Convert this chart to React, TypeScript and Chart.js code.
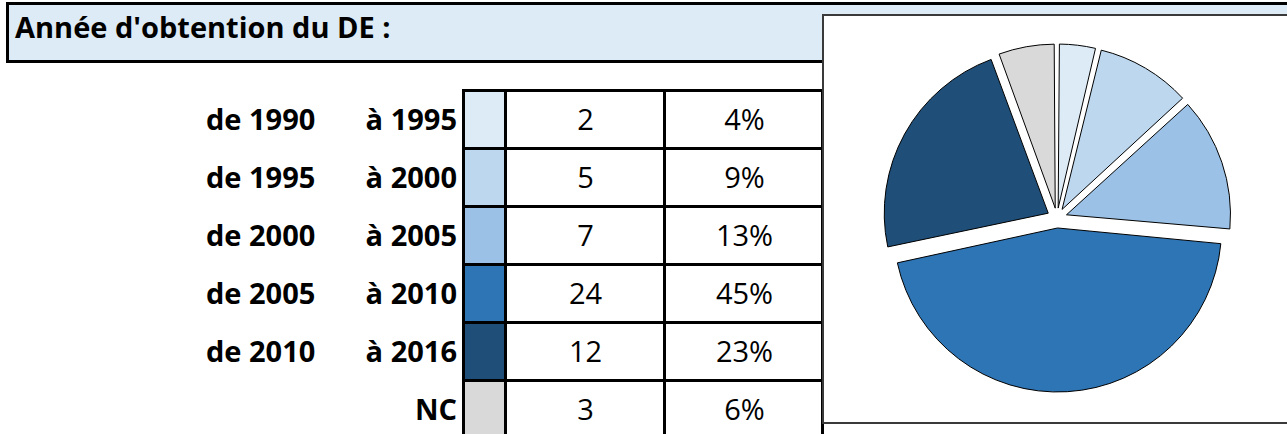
import React, { useEffect, useRef } from "react";
import { Chart, registerables } from "chart.js";

Chart.register(...registerables);

const title = "Année d'obtention du DE :";
const rangeStarts = ["de 1990", "de 1995", "de 2000", "de 2005", "de 2010", ""];
const rangeEnds = ["à 1995", "à 2000", "à 2005", "à 2010", "à 2016", "NC"];
const counts = [2, 5, 7, 24, 12, 3];
const percentLabels = ["4%", "9%", "13%", "45%", "23%", "6%"];
const sliceColors = ["#DDEBF7", "#BDD7EE", "#9BC2E6", "#2E75B6", "#1F4E78", "#D9D9D9"];

const FONT = "'Open Sans', 'DejaVu Sans', sans-serif";
const FS = 29;

// table grid line positions
const colX = [463, 505, 664, 822];
const rowY = [90, 148, 206, 264, 322, 380, 438];
const LW = 3;

const PIE_RADIUS = 164;
const EXPLODE = 40; // chart.js divides offset by 4 when drawing

// Chart.js also grows large slices' radius when exploded; keep all slices at one radius
const keepRadius = {
  id: "keepRadius",
  afterDatasetsUpdate(chart: any) {
    const meta = chart.getDatasetMeta(0);
    meta.data.forEach((arc: any) => {
      const circ = arc.circumference || 0;
      const fix = 1 - Math.sin(Math.min(Math.PI, circ));
      arc.outerRadius = PIE_RADIUS - (EXPLODE / 4) * fix;
    });
  },
};

function PieChart() {
  const ref = useRef<HTMLCanvasElement | null>(null);
  useEffect(() => {
    if (!ref.current) return;
    const chart = new Chart(ref.current, {
      type: "pie",
      data: {
        labels: rangeEnds.map((e, i) => (rangeStarts[i] ? rangeStarts[i] + " " + e : e)),
        datasets: [
          {
            data: counts,
            backgroundColor: sliceColors,
            borderColor: "#000000",
            borderWidth: 1,
            offset: EXPLODE,
            radius: PIE_RADIUS,
          } as any,
        ],
      },
      options: {
        animation: false,
        responsive: true,
        maintainAspectRatio: false,
        layout: { padding: { left: 4, right: 0, top: 0, bottom: 0 } },
        plugins: {
          legend: { display: false },
          tooltip: { enabled: false },
        },
        events: [],
      },
      plugins: [keepRadius],
    });
    return () => chart.destroy();
  }, []);
  return (
    <div style={{ position: "absolute", left: 823, top: 14, width: 464, height: 408 }}>
      <canvas ref={ref} />
    </div>
  );
}

export default function App() {
  const lines: React.ReactNode[] = [];
  rowY.forEach((y, i) => {
    lines.push(
      <div
        key={"h" + i}
        style={{
          position: "absolute",
          left: colX[0] - 1,
          top: y - 1,
          width: colX[colX.length - 1] - colX[0] + LW,
          height: LW,
          background: "#000",
        }}
      />
    );
  });
  colX.forEach((x, i) => {
    lines.push(
      <div
        key={"v" + i}
        style={{
          position: "absolute",
          left: x - 1,
          top: rowY[0] - 1,
          width: LW,
          height: rowY[rowY.length - 1] - rowY[0] + LW,
          background: "#000",
        }}
      />
    );
  });

  return (
    <div
      style={{
        position: "absolute",
        left: 0,
        top: 0,
        width: 1287,
        height: 434,
        overflow: "hidden",
        background: "#fff",
        fontFamily: FONT,
      }}
    >
      {/* header band */}
      <div
        style={{
          position: "absolute",
          left: 6,
          top: 2,
          width: 1300,
          height: 61,
          boxSizing: "border-box",
          borderTop: "3px solid #000",
          borderLeft: "3px solid #000",
          borderBottom: "3px solid #000",
          background: "#DDEBF7",
        }}
      />
      <div
        style={{
          position: "absolute",
          left: 15,
          top: 7,
          lineHeight: "40px",
          fontSize: FS,
          fontWeight: 700,
          color: "#000",
          whiteSpace: "nowrap",
        }}
      >
        {title}
      </div>

      {/* swatches */}
      {sliceColors.map((c, i) => (
        <div
          key={"s" + i}
          style={{
            position: "absolute",
            left: colX[0],
            top: rowY[i],
            width: colX[1] - colX[0],
            height: rowY[i + 1] - rowY[i],
            background: c,
          }}
        />
      ))}

      {/* row texts */}
      {counts.map((v, i) => {
        const top = rowY[i];
        const h = rowY[i + 1] - rowY[i];
        return (
          <React.Fragment key={"r" + i}>
            {rangeStarts[i] ? (
              <div
                style={{
                  position: "absolute",
                  left: 206,
                  top,
                  height: h,
                  lineHeight: h + "px",
                  fontSize: FS,
                  fontWeight: 700,
                  whiteSpace: "nowrap",
                }}
              >
                {rangeStarts[i]}
              </div>
            ) : null}
            <div
              style={{
                position: "absolute",
                left: 300,
                width: 157,
                top,
                height: h,
                lineHeight: h + "px",
                fontSize: FS,
                fontWeight: 700,
                textAlign: "right",
                whiteSpace: "nowrap",
              }}
            >
              {rangeEnds[i]}
            </div>
            <div
              style={{
                position: "absolute",
                left: colX[1],
                width: colX[2] - colX[1] + 2,
                top,
                height: h,
                lineHeight: h + "px",
                fontSize: FS,
                textAlign: "center",
              }}
            >
              {v}
            </div>
            <div
              style={{
                position: "absolute",
                left: colX[2],
                width: colX[3] - colX[2] + 3,
                top,
                height: h,
                lineHeight: h + "px",
                fontSize: FS,
                textAlign: "center",
              }}
            >
              {percentLabels[i]}
            </div>
          </React.Fragment>
        );
      })}

      {lines}

      {/* pie box */}
      <div
        style={{
          position: "absolute",
          left: 822,
          top: 14,
          width: 480,
          height: 410,
          boxSizing: "border-box",
          border: "2px solid #3a3a3a",
          background: "#fff",
        }}
      />
      <PieChart />
    </div>
  );
}
